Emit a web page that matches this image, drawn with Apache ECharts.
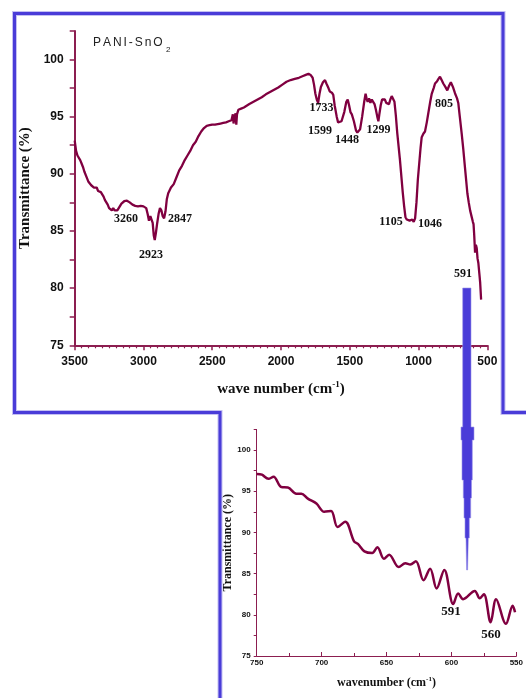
<!DOCTYPE html>
<html><head><meta charset="utf-8">
<script src="https://cdn.jsdelivr.net/npm/echarts/dist/echarts.min.js"></script>
<style>html,body{margin:0;padding:0;background:#fff}#c{width:526px;height:698px}</style>
</head><body><div id="c"></div>
<script>
// ---- main spectrum (wavenumber cm-1, transmittance %) ----
const mainWavenumbers = [3500,3490,3480,3470,3460,3450,3440,3430,3420,3410,3400,3390,3380,3370,3360,3350,3340,3330,3320,3310,3300,3290,3280,3270,3260,3250,3240,3230,3220,3210,3200,3190,3180,3170,3160,3150,3140,3130,3120,3110,3100,3090,3080,3070,3060,3050,3040,3030,3020,3010,3000,2990,2980,2970,2960,2950,2940,2933,2925,2918,2910,2900,2890,2880,2870,2860,2850,2840,2830,2820,2800,2780,2760,2740,2720,2700,2680,2660,2640,2620,2600,2580,2560,2540,2520,2500,2480,2460,2440,2420,2400,2380,2360,2350,2345,2340,2330,2325,2320,2310,2290,2270,2250,2230,2200,2170,2140,2110,2080,2050,2020,1990,1960,1930,1900,1870,1840,1820,1800,1785,1770,1760,1750,1740,1730,1720,1710,1695,1680,1670,1655,1645,1630,1620,1610,1595,1585,1575,1560,1550,1540,1525,1515,1505,1495,1485,1470,1455,1445,1435,1425,1410,1395,1385,1378,1370,1360,1350,1340,1330,1320,1310,1300,1292,1285,1275,1265,1255,1245,1235,1225,1215,1205,1195,1185,1175,1165,1155,1145,1135,1125,1115,1105,1095,1085,1075,1065,1055,1045,1035,1025,1015,1005,995,985,977,965,953,940,929,915,904,890,880,865,855,844,832,820,805,791,778,765,759,750,735,720,711,700,686,675,665,655,645,635,625,615,605,600,595,589,583,577,571,565,558,552,545];
const mainTransmittance = [92.9,92.0,91.6,91.5,91.2,90.9,90.6,90.2,90.3,89.6,89.3,89.4,89.0,88.9,88.8,88.7,88.8,88.5,88.6,88.4,88.3,88.0,87.7,87.5,87.3,87.0,86.9,86.8,87.0,86.8,86.95,86.8,87.0,87.2,87.4,87.5,87.6,87.7,87.65,87.7,87.5,87.4,87.3,87.35,87.2,87.3,87.15,87.1,87.2,87.1,87.15,87.1,87.0,86.5,85.9,86.3,86.2,85.7,84.6,84.2,84.8,85.7,86.5,87.0,86.8,86.3,86.1,86.7,87.8,88.3,88.8,89.1,89.7,90.3,90.7,91.2,91.6,92.0,92.5,92.8,93.3,93.7,94.0,94.2,94.25,94.3,94.3,94.35,94.4,94.45,94.5,94.6,94.7,95.2,94.4,94.9,95.3,94.3,95.2,95.6,95.7,95.8,95.95,96.1,96.3,96.5,96.7,96.95,97.15,97.35,97.55,97.8,98.05,98.2,98.3,98.4,98.55,98.65,98.75,98.65,98.4,97.8,97.0,96.5,96.2,97.0,97.6,98.0,98.2,97.9,97.5,97.2,97.1,96.9,96.0,95.0,94.5,94.4,94.6,94.6,95.4,96.3,96.5,96.0,95.4,95.2,94.6,93.8,93.6,93.7,93.9,95.0,96.3,97.0,96.6,96.3,96.6,96.2,96.5,96.3,96.1,95.6,95.0,94.6,95.2,96.0,96.5,96.4,96.5,96.2,96.3,96.1,96.5,96.8,96.9,96.3,95.1,93.6,92.4,91.2,89.8,88.4,87.2,86.2,86.0,86.1,85.9,86.0,86.0,85.8,86.1,87.5,89.5,90.9,92.3,93.2,93.5,93.7,94.5,95.3,96.3,97.0,97.5,97.9,98.1,98.3,98.5,98.2,97.9,97.6,97.3,97.7,98.0,98.06,97.6,97.05,96.6,96.2,95.0,93.5,92.2,90.9,89.6,88.3,87.5,86.8,86.3,85.8,85.6,84.6,83.1,83.8,83.5,82.6,82.2,81.3,80.5,79.0];
// ---- inset (zoom 750-550 cm-1) ----
const insetWavenumbers = [750,746,741,737,731,726,719.5,715.6,710.6,704,698,692.7,687.7,681.8,675,672,667,661,657,652,648,640.6,635.5,631.7,627.4,621.5,616.4,611.4,605.5,598.6,594.8,591,582,578.2,575,569.8,565.6,558,552.8,551];
const insetTransmittance = [97.1,97.0,96.5,96.75,95.5,95.45,94.7,94.7,94.1,93.5,92.5,92.6,90.65,91.3,88.9,88.6,87.7,87.5,88.2,86.8,87.3,85.8,86.25,86.1,86.5,84.2,85.6,83.2,85.45,81.3,82.6,81.9,82.9,82.0,82.5,79.1,81.9,78.9,81.1,80.3];
// ---- labels ----
const mainPeaks = [3260, 2923, 2847, 1733, 1599, 1448, 1299, 1105, 1046, 805, 591];
const insetPeaks = [591, 560];
const sampleName = 'PANI-SnO';
const mainXTicks = [3500, 3000, 2500, 2000, 1500, 1000, 500];
const mainYTicks = [75, 80, 85, 90, 95, 100];
const insetXTicks = [750, 700, 650, 600, 550];
const insetYTicks = [75, 80, 85, 90, 95, 100];

const zip = (a, b) => a.map((v, i) => [v, b[i]]);
const AX = '#8c1e50', CURVE = '#800040', BLUE = '#4a3cd8';
const serif = 'Liberation Serif';
const sans = 'Liberation Sans';

const chart = echarts.init(document.getElementById('c'), null, {renderer: 'canvas'});

const peakPos = [[126,219],[151,255],[180,219],[321.5,108],[320,131],[347,140],[378.5,130],[391,222],[430,224],[444,104],[463,274]];
const insetPeakPos = [[451,612],[491,635]];

const texts = [];
mainPeaks.forEach((p, i) => texts.push({type:'text', z: 50, style:{text:String(p), x:peakPos[i][0], y:peakPos[i][1], align:'center', verticalAlign:'middle', font:'bold 12px "' + serif + '"', fill:'#111'}}));
insetPeaks.forEach((p, i) => texts.push({type:'text', z: 50, style:{text:String(p), x:insetPeakPos[i][0], y:insetPeakPos[i][1], align:'center', verticalAlign:'middle', font:'bold 13px "' + serif + '"', fill:'#111'}}));
texts.push({type:'text', z:50, style:{
  text: sampleName.split('').map(c => '{a|' + c + '}').join('{s| }'),
  x: 93, y: 43, verticalAlign:'middle',
  rich: {a:{fontSize:12, fontFamily:sans, fill:'#222'}, s:{fontSize:7, fontFamily:sans}}
}});
texts.push({type:'text', z:50, style:{text:'2', x:166, y:50, verticalAlign:'middle', font:'8px "' + sans + '"', fill:'#222'}});

const frame = [[526,412.5],[503,412.5],[503,13.5],[14.5,13.5],[14.5,412.5],[220,412.5],[220,698]];
const pointer = [[462.7,288],[471,288],[471,427],[474,427],[474,440],[472.3,440],[472.3,480],[471.5,480],[471.5,498],[470.7,498],[470.7,518],[469.3,518],[469.3,538],[468.3,538],[467.6,570],[466.6,570],[466,538],[465,538],[465,518],[464,518],[464,498],[463.3,498],[463.3,480],[462,480],[462,440],[461,440],[461,427],[462.7,427]];

const option = {
  animation: false,
  backgroundColor: '#fff',
  grid: [
    {left: 74.7, top: 30.9, width: 412.6, height: 314.4},
    {left: 256.7, top: 429.4, width: 261.3, height: 226.6}
  ],
  xAxis: [
    {gridIndex:0, type:'value', inverse:true, min:500, max:3500, interval:500,
     name:'{a|wave number (cm}{b|-1}{a|)}', nameLocation:'middle', nameGap:35,
     nameTextStyle:{rich:{a:{fontSize:15, fontWeight:'bold', fontFamily:serif, color:'#111', lineHeight:18}, b:{fontSize:9, fontWeight:'bold', fontFamily:serif, color:'#111', lineHeight:9, verticalAlign:'top'}}},
     axisLine:{show:true, onZero:false, lineStyle:{color:AX, width:2}},
     axisTick:{show:true, inside:false, length:5, lineStyle:{color:AX, width:1.5}},
     minorTick:{show:true, splitNumber:10, length:3, lineStyle:{color:AX, width:1.2}},
     splitLine:{show:false},
     axisLabel:{margin:10, fontSize:12, fontWeight:'bold', fontFamily:sans, color:'#111',
       formatter: v => mainXTicks.includes(v) ? String(v) : ''}},
    {gridIndex:1, type:'value', inverse:true, min:550, max:750, interval:50,
     name:'{a|wavenumber (cm}{b|-1}{a|)}', nameLocation:'middle', nameGap:20,
     nameTextStyle:{rich:{a:{fontSize:12, fontWeight:'bold', fontFamily:serif, color:'#111', lineHeight:14}, b:{fontSize:7, fontWeight:'bold', fontFamily:serif, color:'#111', lineHeight:7, verticalAlign:'top'}}},
     axisLine:{show:true, onZero:false, lineStyle:{color:AX, width:1}},
     axisTick:{show:true, inside:true, length:4, lineStyle:{color:AX, width:1}},
     minorTick:{show:true, splitNumber:2, length:3, lineStyle:{color:AX, width:1}},
     splitLine:{show:false},
     axisLabel:{margin:3, fontSize:8, fontWeight:'bold', fontFamily:sans, color:'#111',
       formatter: v => insetXTicks.includes(v) ? String(v) : ''}}
  ],
  yAxis: [
    {gridIndex:0, type:'value', min:75, max:102.5, interval:2.5,
     name:'Transmittance (%)', nameLocation:'middle', nameGap:37, nameRotate:90,
     nameTextStyle:{fontSize:15, fontWeight:'bold', fontFamily:serif, color:'#111'},
     axisLine:{show:true, onZero:false, lineStyle:{color:AX, width:2}},
     axisTick:{show:true, inside:false, length:5, lineStyle:{color:AX, width:1.5}},
     splitLine:{show:false},
     axisLabel:{margin:11, fontSize:12, fontWeight:'bold', fontFamily:sans, color:'#111',
       formatter: v => mainYTicks.includes(v) ? String(v) : ''}},
    {gridIndex:1, type:'value', min:75, max:102.5, interval:2.5,
     name:'Transmittance (%)', nameLocation:'middle', nameGap:19, nameRotate:90,
     nameTextStyle:{fontSize:12, fontWeight:'bold', fontFamily:serif, color:'#111'},
     axisLine:{show:true, onZero:false, lineStyle:{color:AX, width:1}},
     axisTick:{show:true, inside:false, length:3, lineStyle:{color:AX, width:1}},
     splitLine:{show:false},
     axisLabel:{margin:6, fontSize:8, fontWeight:'bold', fontFamily:sans, color:'#111',
       formatter: v => insetYTicks.includes(v) ? String(v) : ''}}
  ],
  series: [
    {type:'line', xAxisIndex:0, yAxisIndex:0, data: zip(mainWavenumbers, mainTransmittance),
     showSymbol:false, lineStyle:{color:CURVE, width:2.3}, z:5},
    {type:'line', xAxisIndex:1, yAxisIndex:1, data: zip(insetWavenumbers, insetTransmittance),
     showSymbol:false, smooth:0.35, lineStyle:{color:CURVE, width:2.5}, z:5}
  ],
  graphic: [
    {type:'polyline', z:90, shape:{points:frame}, style:{stroke:'#c4c0f2', lineWidth:5, fill:null}},
    {type:'polyline', z:91, shape:{points:frame}, style:{stroke:BLUE, lineWidth:3, fill:null}},
    {type:'polygon', z:92, shape:{points:pointer}, style:{fill:BLUE, stroke:'#9c94ea', lineWidth:0.6}}
  ].concat(texts)
};
chart.setOption(option);
</script>
</body></html>
